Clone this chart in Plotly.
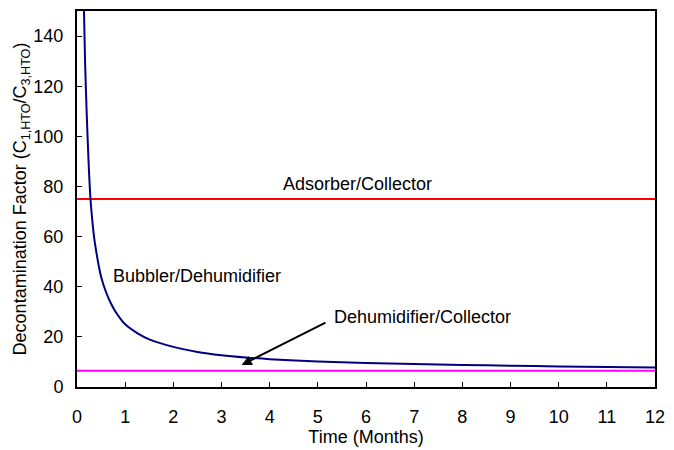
import plotly.graph_objects as go

# Bubbler/Dehumidifier curve
time_bubbler = [0.145, 0.17, 0.2, 0.24, 0.28, 0.32, 0.36, 0.4, 0.45, 0.5, 0.6, 0.7, 0.8, 0.9, 1.0,
                1.25, 1.5, 2.0, 2.5, 3.0, 3.5, 4.0, 5.0, 6.0, 7.0, 8.0, 9.0, 10.0, 11.0, 12.0]
df_bubbler = [150, 128, 110, 90, 75, 66, 59, 54, 48.5, 44, 38, 33.5, 30, 27.3, 25,
              21.5, 19, 16, 14, 12.7, 11.8, 11.1, 10.2, 9.6, 9.2, 8.8, 8.5, 8.2, 8.0, 7.8]

time_flat = [0, 12]
df_adsorber = [75, 75]
df_dehumidifier = [6.5, 6.5]

x_ticks = list(range(0, 13))
y_ticks = list(range(0, 141, 20))

FONT = "Liberation Sans, Arial, sans-serif"
FS = 18

fig = go.Figure()
fig.add_trace(go.Scatter(x=time_flat, y=df_adsorber, mode="lines",
                         line=dict(color="#FF0000", width=2), showlegend=False))
fig.add_trace(go.Scatter(x=time_flat, y=df_dehumidifier, mode="lines",
                         line=dict(color="#FF00FF", width=2), showlegend=False))
fig.add_trace(go.Scatter(x=time_bubbler, y=df_bubbler, mode="lines",
                         line=dict(color="#000080", width=2, shape="spline", smoothing=0.8),
                         showlegend=False))

fig.add_annotation(x=5.83, y=81, xref="x", yref="y", text="Adsorber/Collector",
                   showarrow=False, xanchor="center", yanchor="middle",
                   font=dict(size=FS, color="black", family=FONT))
fig.add_annotation(x=0.71, y=44.3, xref="x", yref="y", text="Bubbler/Dehumidifier",
                   showarrow=False, xanchor="left", yanchor="middle",
                   font=dict(size=FS, color="black", family=FONT))
fig.add_annotation(x=5.29, y=27.9, xref="x", yref="y", text="Dehumidifier/Collector",
                   showarrow=False, xanchor="left", yanchor="middle",
                   font=dict(size=FS, color="black", family=FONT))
fig.add_annotation(x=3.42, y=8.8, xref="x", yref="y", ax=5.19, ay=26, axref="x", ayref="y",
                   text="", showarrow=True, arrowhead=2, arrowsize=1, arrowwidth=2,
                   arrowcolor="black")

fig.update_layout(
    width=674, height=450,
    margin=dict(l=77, r=19, t=11, b=63),
    plot_bgcolor="white", paper_bgcolor="white",
    font=dict(family=FONT, size=FS, color="black"),
    xaxis=dict(range=[0, 12], tickvals=x_ticks, ticks="inside", ticklen=5, tickwidth=1,
               tickcolor="black", showline=True, linecolor="black", linewidth=2, mirror=True,
               showgrid=False, zeroline=False, ticklabelstandoff=12, automargin=False,
               title=dict(text="Time (Months)", font=dict(size=FS), standoff=4),
               tickfont=dict(size=FS)),
    yaxis=dict(range=[0, 150], tickvals=y_ticks, ticks="inside", ticklen=5, tickwidth=1,
               tickcolor="black", showline=True, linecolor="black", linewidth=2, mirror=True,
               showgrid=False, zeroline=False, ticklabelstandoff=8, automargin=False,
               title=dict(text="Decontamination Factor (C<sub>1,HTO</sub>/C<sub>3,HTO</sub>)",
                          font=dict(size=FS), standoff=2),
               tickfont=dict(size=FS)),
)

fig.write_html("out.html")
